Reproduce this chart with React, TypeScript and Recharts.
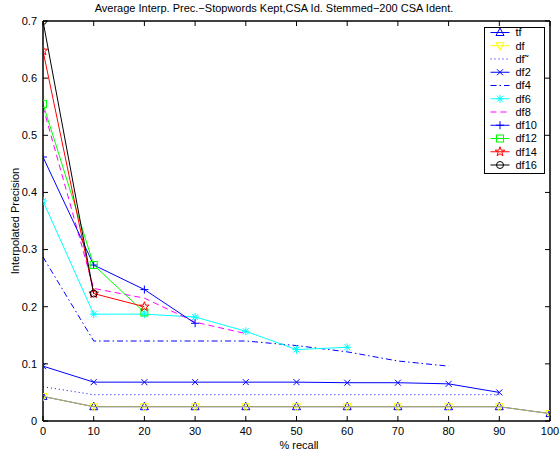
import React from 'react';
import { LineChart, Line, XAxis, YAxis, Legend } from 'recharts';

const FONT = '"Liberation Sans", Arial, Helvetica, sans-serif';
const TICK_LEN = 5;

// recall levels and axis ticks
const recall = [0, 10, 20, 30, 40, 50, 60, 70, 80, 90, 100];
const xTicks = [0, 10, 20, 30, 40, 50, 60, 70, 80, 90, 100];
const yTicks = [0, 0.1, 0.2, 0.3, 0.4, 0.5, 0.6, 0.7];

// interpolated precision per weighting (null = not reached)
const tf = [0.043, 0.025, 0.025, 0.025, 0.025, 0.025, 0.025, 0.025, 0.025, 0.025, 0.013];
const df = [0.043, 0.025, 0.025, 0.025, 0.025, 0.025, 0.025, 0.025, 0.025, 0.025, 0.013];
const dfTilde = [0.06, 0.046, 0.046, 0.046, 0.046, 0.046, 0.046, 0.046, 0.046, 0.046, null];
const df2 = [0.096, 0.068, 0.068, 0.068, 0.068, 0.068, 0.067, 0.067, 0.065, 0.05, null];
const df4 = [0.287, 0.14, 0.14, 0.14, 0.14, 0.132, 0.121, 0.105, 0.096, null, null];
const df6 = [0.385, 0.187, 0.187, 0.182, 0.157, 0.125, 0.129, null, null, null, null];
const df8 = [0.55, 0.232, 0.215, 0.173, 0.153, null, null, null, null, null, null];
const df10 = [0.462, 0.273, 0.23, 0.171, null, null, null, null, null, null, null];
const df12 = [0.555, 0.273, 0.19, null, null, null, null, null, null, null, null];
const df14 = [0.648, 0.223, 0.2, null, null, null, null, null, null, null, null];
const df16 = [0.7, 0.223, null, null, null, null, null, null, null, null, null];

type MarkerKind = 'none' | 'triUp' | 'triDown' | 'x' | 'star' | 'plus' | 'square' | 'penta' | 'circle';

const series: {
  key: string;
  name: string;
  values: (number | null)[];
  color: string;
  dash?: string;
  opacity?: number;
  marker: MarkerKind;
}[] = [
  { key: 'tf', name: 'tf', values: tf, color: '#0000ff', marker: 'triUp' },
  { key: 'df', name: 'df', values: df, color: '#ffff00', opacity: 0.7, marker: 'triDown' },
  { key: 'dfTilde', name: 'df\u02dc', values: dfTilde, color: '#0000ff', dash: '1 3', marker: 'none' },
  { key: 'df2', name: 'df2', values: df2, color: '#0000ff', marker: 'x' },
  { key: 'df4', name: 'df4', values: df4, color: '#0000ff', dash: '6 3 1.5 3', marker: 'none' },
  { key: 'df6', name: 'df6', values: df6, color: '#00ffff', marker: 'star' },
  { key: 'df8', name: 'df8', values: df8, color: '#ff00ff', dash: '6 4', marker: 'none' },
  { key: 'df10', name: 'df10', values: df10, color: '#0000ff', marker: 'plus' },
  { key: 'df12', name: 'df12', values: df12, color: '#00ff00', marker: 'square' },
  { key: 'df14', name: 'df14', values: df14, color: '#ff0000', marker: 'penta' },
  { key: 'df16', name: 'df16', values: df16, color: '#000000', marker: 'circle' },
];

const data = recall.map((r, i) => {
  const row: Record<string, number | null> = { recall: r };
  series.forEach((s) => {
    row[s.key] = s.values[i];
  });
  return row;
});

function marker(kind: MarkerKind, cx: number, cy: number, color: string, key?: string | number) {
  const st = { fill: 'none', stroke: color, strokeWidth: 1 };
  switch (kind) {
    case 'triUp':
      return <polygon key={key} points={`${cx},${cy - 4.5} ${cx - 4},${cy + 3} ${cx + 4},${cy + 3}`} {...st} />;
    case 'triDown':
      return <polygon key={key} points={`${cx},${cy + 4.5} ${cx - 4},${cy - 3} ${cx + 4},${cy - 3}`} {...st} />;
    case 'x':
      return (
        <g key={key} {...st}>
          <line x1={cx - 3} y1={cy - 3} x2={cx + 3} y2={cy + 3} />
          <line x1={cx - 3} y1={cy + 3} x2={cx + 3} y2={cy - 3} />
        </g>
      );
    case 'plus':
      return (
        <g key={key} {...st}>
          <line x1={cx - 4} y1={cy} x2={cx + 4} y2={cy} />
          <line x1={cx} y1={cy - 4} x2={cx} y2={cy + 4} />
        </g>
      );
    case 'star':
      return (
        <g key={key} {...st}>
          <line x1={cx - 4} y1={cy} x2={cx + 4} y2={cy} />
          <line x1={cx} y1={cy - 4} x2={cx} y2={cy + 4} />
          <line x1={cx - 3} y1={cy - 3} x2={cx + 3} y2={cy + 3} />
          <line x1={cx - 3} y1={cy + 3} x2={cx + 3} y2={cy - 3} />
        </g>
      );
    case 'square':
      return <rect key={key} x={cx - 3.5} y={cy - 3.5} width={7} height={7} {...st} />;
    case 'circle':
      return <circle key={key} cx={cx} cy={cy} r={3.5} {...st} />;
    case 'penta': {
      const pts: string[] = [];
      for (let k = 0; k < 10; k++) {
        const rad = k % 2 === 0 ? 5 : 2;
        const a = -Math.PI / 2 + (k * Math.PI) / 5;
        pts.push(`${cx + rad * Math.cos(a)},${cy + rad * Math.sin(a)}`);
      }
      return <polygon key={key} points={pts.join(' ')} {...st} />;
    }
    default:
      return null;
  }
}

const BottomTick = (props: any) => {
  const { x, y, payload } = props;
  return (
    <g>
      <line x1={x} y1={y} x2={x} y2={y - TICK_LEN} stroke="#000" />
      <text x={x} y={y + 14} textAnchor="middle" fontSize={11} fontFamily={FONT} fill="#000">
        {payload.value}
      </text>
    </g>
  );
};

// top axis sits 1px above the plot, so the tick starts at y + 1
const TopTick = (props: any) => {
  const { x, y } = props;
  return <line x1={x} y1={y} x2={x} y2={y + TICK_LEN} stroke="#000" />;
};

const LeftTick = (props: any) => {
  const { x, y, payload } = props;
  const v = payload.value as number;
  return (
    <g>
      <line x1={x} y1={y} x2={x + TICK_LEN} y2={y} stroke="#000" />
      <text x={x - 6} y={y} dy="0.35em" textAnchor="end" fontSize={11} fontFamily={FONT} fill="#000">
        {v === 0 ? '0' : v.toFixed(1)}
      </text>
    </g>
  );
};

const RightTick = (props: any) => {
  const { x, y } = props;
  return <line x1={x} y1={y} x2={x - TICK_LEN} y2={y} stroke="#000" />;
};

const LegendBox = () => {
  const w = 61;
  const h = 147;
  return (
    <svg width={w} height={h} style={{ display: 'block' }}>
      <rect x={0.5} y={0.5} width={w - 1} height={h - 1} fill="#fff" stroke="#000" />
      {series.map((s, i) => {
        const y = 5.5 + i * 13.25;
        return (
          <g key={s.key}>
            <line x1={6.5} y1={y} x2={25.5} y2={y} stroke={s.color} strokeDasharray={s.dash} />
            {marker(s.marker, 16, y, s.color)}
            <text x={31.5} y={y} dy="0.35em" fontSize={11} fontFamily={FONT} fill="#000">
              {s.name}
            </text>
          </g>
        );
      })}
    </svg>
  );
};

export default function App() {
  return (
    <div style={{ position: 'absolute', left: 0, top: 0, background: '#fff' }}>
      <LineChart width={559} height={455} data={data} margin={{ top: 20, right: 8, bottom: 0, left: 0 }}>
        <XAxis
          dataKey="recall"
          type="number"
          domain={[0, 100]}
          ticks={xTicks}
          interval={0}
          allowDataOverflow
          height={34}
          tickSize={0}
          tickMargin={0}
          tickLine={false}
          axisLine={{ stroke: '#000', strokeWidth: 1.5 }}
          tick={BottomTick}
          label={() => (
            <text x={299} y={449} textAnchor="middle" fontSize={11} fontFamily={FONT} fill="#000">
              % recall
            </text>
          )}
        />
        <XAxis
          xAxisId="top"
          dataKey="recall"
          orientation="top"
          type="number"
          domain={[0, 100]}
          ticks={xTicks}
          interval={0}
          allowDataOverflow
          height={1}
          tickSize={0}
          tickMargin={0}
          tickLine={false}
          axisLine={{ stroke: '#000', strokeWidth: 1.5 }}
          tick={TopTick}
          label={() => (
            <text x={274} y={12} textAnchor="middle" fontSize={11} fontFamily={FONT} fill="#000">
              Average Interp. Prec.−Stopwords Kept,CSA Id. Stemmed−200 CSA Ident.
            </text>
          )}
        />
        <YAxis
          type="number"
          domain={[0, 0.7]}
          ticks={yTicks}
          interval={0}
          allowDataOverflow
          width={43}
          tickSize={0}
          tickMargin={0}
          tickLine={false}
          axisLine={{ stroke: '#000', strokeWidth: 1.5 }}
          tick={LeftTick}
          label={() => (
            <text
              x={19}
              y={221}
              transform="rotate(-90 19 221)"
              textAnchor="middle"
              fontSize={11}
              fontFamily={FONT}
              fill="#000"
            >
              Interpolated Precision
            </text>
          )}
        />
        <YAxis
          yAxisId="right"
          orientation="right"
          type="number"
          domain={[0, 0.7]}
          ticks={yTicks}
          interval={0}
          allowDataOverflow
          width={1}
          tickSize={0}
          tickMargin={0}
          tickLine={false}
          axisLine={{ stroke: '#000', strokeWidth: 1.5 }}
          tick={RightTick}
        />
        {series.map((s) => (
          <Line
            key={s.key}
            dataKey={s.key}
            name={s.name}
            type="linear"
            stroke={s.color}
            strokeOpacity={s.opacity ?? 1}
            strokeWidth={1}
            strokeDasharray={s.dash}
            connectNulls={false}
            isAnimationActive={false}
            activeDot={false}
            dot={(p: any) => {
              if (p.cx == null || p.cy == null || p.payload?.[s.key] == null) return <g key={`${s.key}-${p.index}`} />;
              return marker(s.marker, p.cx, p.cy, s.color, `${s.key}-${p.index}`);
            }}
          />
        ))}
        <Legend
          layout="vertical"
          align="center"
          verticalAlign="middle"
          wrapperStyle={{ left: 484, top: 27, width: 61, height: 147 }}
          content={() => <LegendBox />}
        />
      </LineChart>
    </div>
  );
}
